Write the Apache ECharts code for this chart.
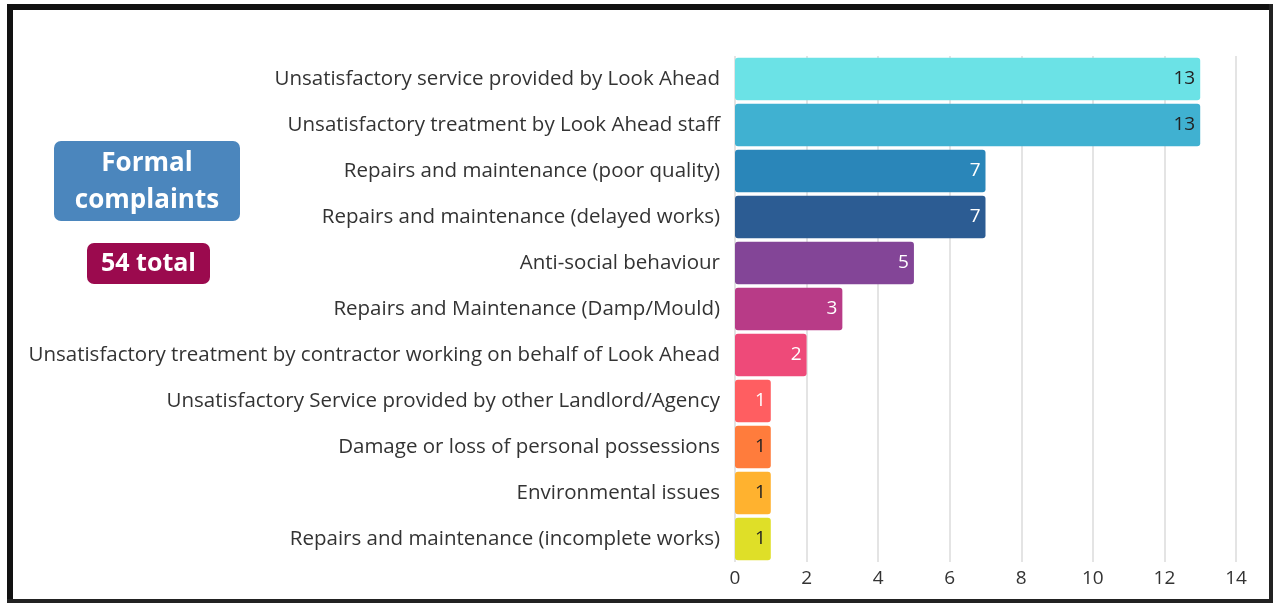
<!DOCTYPE html>
<html>
<head>
<meta charset="utf-8">
<script src="https://cdn.jsdelivr.net/npm/echarts@6/dist/echarts.min.js"></script>
<style>
  html, body { margin: 0; padding: 0; background: #fff; }
  #complaints { width: 1274px; height: 605px; }
</style>
</head>
<body>
<div id="complaints"></div>
<script>
// categories top -> bottom
const categories = [
  'Unsatisfactory service provided by Look Ahead',
  'Unsatisfactory treatment by Look Ahead staff',
  'Repairs and maintenance (poor quality)',
  'Repairs and maintenance (delayed works)',
  'Anti-social behaviour',
  'Repairs and Maintenance (Damp/Mould)',
  'Unsatisfactory treatment by contractor working on behalf of Look Ahead',
  'Unsatisfactory Service provided by other Landlord/Agency',
  'Damage or loss of personal possessions',
  'Environmental issues',
  'Repairs and maintenance (incomplete works)'
];
const counts = [13, 13, 7, 7, 5, 3, 2, 1, 1, 1, 1];
const barColors = ['#6be2e6', '#40b1d1', '#2a86b9', '#2c5c93', '#834597',
  '#b83b87', '#ee4a79', '#ff5e61', '#ff7c3c', '#ffb22f', '#dfdf28'];
const labelColors = ['#222', '#222', '#fff', '#fff', '#fff', '#fff', '#fff', '#fff', '#222', '#222', '#222'];
const xTicks = { min: 0, max: 14, interval: 2 };
const totalText = '54 total';

const FONT = '"Open Sans", "Noto Sans", sans-serif';

const chart = echarts.init(document.getElementById('complaints'));
chart.setOption({
  animation: false,
  textStyle: { fontFamily: FONT },
  grid: {
    left: 735, right: 38, top: 56, bottom: 43,
    outerBoundsMode: 'none'
  },
  xAxis: {
    type: 'value',
    min: xTicks.min, max: xTicks.max, interval: xTicks.interval,
    axisLine: { show: false },
    axisTick: { show: false },
    axisLabel: { color: '#333', fontSize: 19, margin: 7, fontFamily: FONT },
    splitLine: { lineStyle: { color: '#e4e4e4', width: 2 } }
  },
  yAxis: {
    type: 'category',
    inverse: true,
    data: categories,
    axisLine: { show: false },
    axisTick: { show: false },
    axisLabel: { color: '#333', fontSize: 20.5, margin: 15, fontFamily: FONT }
  },
  series: [{
    type: 'bar',
    barCategoryGap: '8%',
    data: counts.map((v, i) => ({
      value: v,
      itemStyle: { color: barColors[i], borderRadius: 3 },
      label: { color: labelColors[i] }
    })),
    label: {
      show: true,
      position: 'insideRight',
      distance: 5,
      fontSize: 19,
      fontFamily: FONT
    }
  }],
  graphic: [
    // outer frame: heavier on top/left
    { type: 'rect', shape: { x: 7, y: 4, width: 6, height: 599 }, style: { fill: '#111' }, silent: true },
    { type: 'rect', shape: { x: 7, y: 4, width: 1266, height: 6 }, style: { fill: '#111' }, silent: true },
    { type: 'rect', shape: { x: 1269, y: 4, width: 4, height: 599 }, style: { fill: '#222' }, silent: true },
    { type: 'rect', shape: { x: 7, y: 599, width: 1266, height: 4 }, style: { fill: '#222' }, silent: true },
    {
      type: 'rect',
      shape: { x: 54, y: 141, width: 186, height: 80, r: 7 },
      style: { fill: '#4b86bd' }
    },
    {
      type: 'text',
      x: 147, y: 182,
      style: {
        text: 'Formal\ncomplaints',
        fill: '#fff',
        font: 'bold 26px ' + FONT,
        align: 'center',
        verticalAlign: 'middle',
        lineHeight: 37
      }
    },
    {
      type: 'rect',
      shape: { x: 87, y: 243, width: 123, height: 41, r: 7 },
      style: { fill: '#9b0a4e' }
    },
    {
      type: 'text',
      x: 148.5, y: 264,
      style: {
        text: totalText,
        fill: '#fff',
        font: 'bold 25px ' + FONT,
        align: 'center',
        verticalAlign: 'middle'
      }
    }
  ]
});
</script>
</body>
</html>
